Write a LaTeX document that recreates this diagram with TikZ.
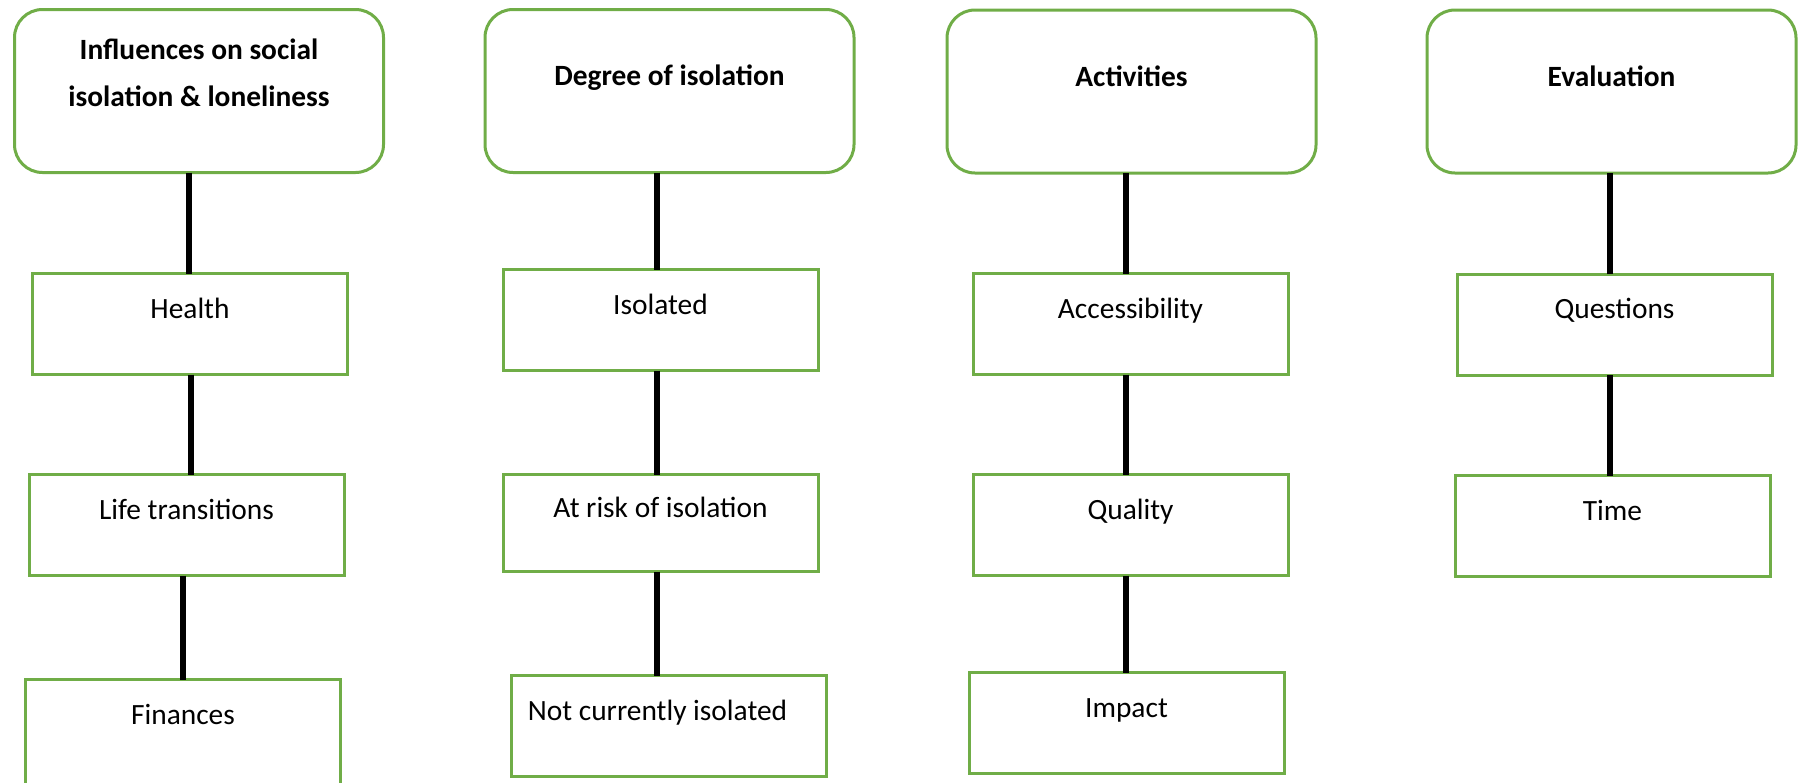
\documentclass[tikz,border=0pt]{standalone}
\usepackage{fontspec}
\setmainfont{Carlito}
\definecolor{boxgreen}{HTML}{70AD47}
\begin{document}
\begin{tikzpicture}[x=0.5pt,y=-0.5pt,
  every node/.style={inner sep=0pt, outer sep=0pt, font=\fontsize{14.7}{20.5}\selectfont},
  head/.style={draw=boxgreen, line width=1.5pt, rounded corners=14pt,
    minimum width=184.5pt, align=center,
    font=\bfseries\fontsize{14.7}{20.5}\selectfont,
    text height=38pt, text depth=43.5pt},
  item/.style={draw=boxgreen, line width=1.5pt, minimum width=157.5pt,
    text height=22.25pt, text depth=28.25pt},
  conn/.style={draw=black, line width=3.25pt}]
\useasboundingbox (0,0) rectangle (1798,782);
\clip (0,0) rectangle (1798,782);

% column 1: influences
\node[head, text height=48.25pt, text depth=33.25pt] (h1) at (199,91)
  {Influences on social\\[2.75pt]isolation \& loneliness};
\node[item] (b1a) at (190,324) {Health};
\node[item] (b1b) at (186.5,525) {Life transitions};
\node[item, text depth=30.25pt] (b1c) at (183,732) {Finances};

% column 2: degree of isolation
\node[head] (h2) at (669.5,91) {Degree of isolation};
\node[item] (b2a) at (660.5,320) {Isolated};
\node[item, text height=21.25pt, text depth=27.25pt] (b2b) at (660.5,523) {At risk of isolation};
\node[item] (b2c) at (668.5,726) {Not currently isolated\hspace*{11pt}};

% column 3: activities
\node[head] (h3) at (1131.5,91.5) {Activities};
\node[item] (b3a) at (1130.5,324) {Accessibility};
\node[item] (b3b) at (1130.5,525) {Quality};
\node[item] (b3c) at (1126.5,723) {Impact};

% column 4: evaluation
\node[head] (h4) at (1611.5,91.5) {Evaluation};
\node[item] (b4a) at (1614.5,324.5) {Questions};
\node[item] (b4b) at (1612.5,526) {Time};

% connectors
\draw[conn] ([xshift=-5pt]h1.south) -- ([xshift=-0.5pt]b1a.north);
\draw[conn] ([xshift=0.5pt]b1a.south) -- ([xshift=2.25pt]b1b.north);
\draw[conn] ([xshift=-1.75pt]b1b.south) -- (b1c.north);

\draw[conn] ([xshift=-6.25pt]h2.south) -- ([xshift=-1.75pt]b2a.north);
\draw[conn] ([xshift=-1.75pt]b2a.south) -- ([xshift=-1.75pt]b2b.north);
\draw[conn] ([xshift=-1.75pt]b2b.south) -- ([xshift=-5.75pt]b2c.north);

\draw[conn] ([xshift=-2.75pt]h3.south) -- ([xshift=-2.25pt]b3a.north);
\draw[conn] ([xshift=-2.25pt]b3a.south) -- ([xshift=-2.25pt]b3b.north);
\draw[conn] ([xshift=-2.25pt]b3b.south) -- ([xshift=-0.25pt]b3c.north);

\draw[conn] ([xshift=-0.75pt]h4.south) -- ([xshift=-2.25pt]b4a.north);
\draw[conn] ([xshift=-2.25pt]b4a.south) -- ([xshift=-1.25pt]b4b.north);
\end{tikzpicture}
\end{document}
